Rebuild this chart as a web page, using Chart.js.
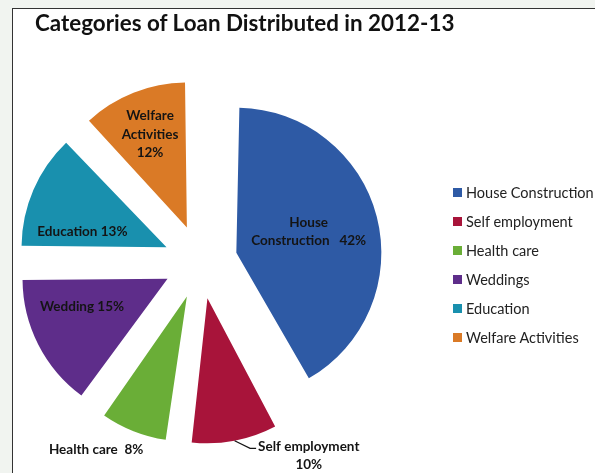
<!DOCTYPE html>
<html>
<head>
<meta charset="utf-8">
<title>Categories of Loan Distributed in 2012-13</title>
<script src="https://cdn.jsdelivr.net/npm/chart.js@4.4.0/dist/chart.umd.min.js"></script>
<style>
  html, body { margin: 0; padding: 0; }
  body { width: 595px; height: 473px; background: #f1f4f0; position: relative; overflow: hidden; font-family: Lato, sans-serif; }
  #frame { position: absolute; left: 12px; top: 8px; width: 600px; height: 480px; background: #fff; border: 1.5px solid #333; }
  #pie { position: absolute; left: 0; top: 0; }
  #title { position: absolute; left: 35px; top: 10px; margin: 0; font-size: 22.4px; line-height: 1.2; font-weight: bold; color: #111; white-space: nowrap; }
  #legend { position: absolute; left: 453px; top: 178px; margin: 0; padding: 0; list-style: none; }
  #legend li { height: 29px; display: flex; align-items: center; font-size: 14.5px; color: #222; }
  #legend .swatch { width: 9px; height: 9px; margin-right: 4px; }
</style>
</head>
<body>
<div id="frame"></div>
<canvas id="pie" width="595" height="473"></canvas>
<h1 id="title">Categories of Loan Distributed in 2012-13</h1>
<ul id="legend"></ul>
<script>
// values
const categories = ['House Construction', 'Self employment', 'Health care', 'Weddings', 'Education', 'Welfare Activities'];
const shares = [42, 10, 8, 15, 13, 12];
const sliceLabels = ['House\nConstruction   {p}', 'Self employment\n{p}', 'Health care  {p}', 'Wedding {p}', 'Education {p}', 'Welfare\nActivities\n{p}'];
const sliceColors = ['#2e5aa5', '#a8143a', '#6aae37', '#5e2d8a', '#1990ae', '#da7a26'];

const PIE_RADIUS = 145;
const OFFSET = 148;          // chart.js moves a slice by offset / 4
const PUSH = OFFSET / 4;

// where each slice label sits: turn (deg) from the slice middle, dist as part of the radius
const labelSpots = [
  { turn: -2, dist: 0.52 },
  { turn: -22, dist: 1.29, leader: true },
  { turn: 9, dist: 1.23 },
  { turn: 9, dist: 0.62 },
  { turn: -13, dist: 0.59 },
  { turn: 0, dist: 0.69 }
];

// chart.js makes narrow exploded slices bigger, keep them all the same size
const evenRadius = {
  id: 'evenRadius',
  beforeDatasetsDraw(chart) {
    chart.getDatasetMeta(0).data.forEach((arc) => {
      const fix = 1 - Math.sin(Math.min(Math.PI, arc.circumference));
      arc.outerRadius = PIE_RADIUS - PUSH * fix;
    });
  }
};

const sliceText = {
  id: 'sliceText',
  afterDatasetsDraw(chart) {
    const ctx = chart.ctx;
    const total = shares.reduce((a, b) => a + b, 0);
    ctx.save();
    ctx.font = 'bold 13.5px Lato';
    ctx.fillStyle = '#141414';
    ctx.strokeStyle = '#141414';
    ctx.lineWidth = 1.2;
    ctx.textAlign = 'center';
    ctx.textBaseline = 'middle';
    chart.getDatasetMeta(0).data.forEach((arc, i) => {
      const mid = (arc.startAngle + arc.endAngle) / 2;
      const tipX = arc.x + Math.cos(mid) * PUSH;
      const tipY = arc.y + Math.sin(mid) * PUSH;
      const spot = labelSpots[i];
      const a = mid + spot.turn * Math.PI / 180;
      const cx = tipX + Math.cos(a) * spot.dist * PIE_RADIUS;
      const cy = tipY + Math.sin(a) * spot.dist * PIE_RADIUS;
      const pct = Math.round(shares[i] / total * 100) + '%';
      const lines = sliceLabels[i].replace('{p}', pct).split('\n');
      const lh = 18.5;
      const top = cy - (lines.length - 1) * lh / 2;
      lines.forEach((t, k) => ctx.fillText(t, cx, top + k * lh));
      if (spot.leader) {
        const left = cx - ctx.measureText(lines[0]).width / 2;
        ctx.beginPath();
        ctx.moveTo(tipX + Math.cos(mid) * PIE_RADIUS, tipY + Math.sin(mid) * PIE_RADIUS);
        ctx.lineTo(left - 8, top + 2);
        ctx.lineTo(left - 2, top + 2);
        ctx.stroke();
      }
    });
    ctx.restore();
  }
};

function drawChart() {
  const canvas = document.querySelector('#pie');
  const chart = new Chart(canvas, {
    type: 'pie',
    data: {
      labels: categories,
      datasets: [{
        data: shares,
        backgroundColor: sliceColors,
        borderWidth: 0,
        offset: OFFSET,
        radius: PIE_RADIUS
      }]
    },
    options: {
      responsive: false,
      animation: false,
      events: [],
      // chart area centred on the pie middle (200, 262)
      layout: { padding: { left: 35, right: 229, top: 51, bottom: 0 } },
      plugins: {
        legend: { display: false },
        tooltip: { enabled: false },
        title: { display: false }
      }
    },
    plugins: [evenRadius, sliceText]
  });

  const legend = document.querySelector('#legend');
  chart.data.labels.forEach((name, i) => {
    legend.innerHTML += `<li><span class="swatch" style="background:${sliceColors[i]}"></span>${name}</li>`;
  });
}

document.addEventListener('DOMContentLoaded', drawChart);
</script>
</body>
</html>
